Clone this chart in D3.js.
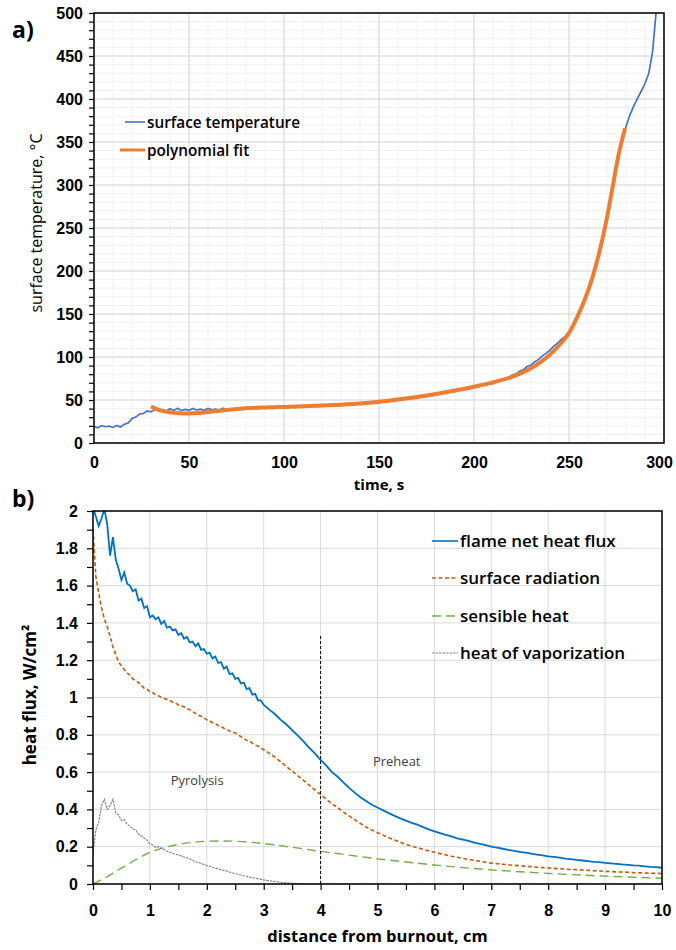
<!DOCTYPE html>
<html>
<head>
<meta charset="utf-8">
<script src="https://cdn.jsdelivr.net/npm/d3@7"></script>
<style>
  body { margin: 0; background: #fff; }
  svg { display: block; font-family: "Open Sans", sans-serif; }
  .tickLabels text { font-weight: 700; font-size: 16px; fill: #000; }
</style>
</head>
<body>
<div id="chart"></div>
<script>
"use strict";

// ---- a) surface temperature vs time ----
// measured trace, one reading every 2 s starting at t = 0
const tempStep = 2;
const surfaceTemp = [
  19.5, 17.8, 20.2, 18.9, 19.6, 18.1, 20.3, 18.6, 21.9, 23.2,
  28.4, 30.1, 33.6, 34.3, 37.4, 36.2, 39.1, 37.6, 38.9, 37.1,
  39.8, 37.9, 40.3, 37.6, 39.1, 37.9, 40.2, 38.4, 39.3, 38.1,
  40.1, 38.6, 39.4, 38.3, 40.4, 38.9, 40.1, 39.0, 40.6, 39.2,
  41.0, 39.7, 41.2, 39.9, 41.3, 40.1, 41.8, 40.4, 42.0, 40.6,
  42.4, 40.9, 42.7, 41.3, 43.1, 41.6, 43.4, 42.0, 44.0, 42.4,
  44.2, 42.8, 44.8, 43.1, 45.3, 43.6, 45.6, 44.1, 46.3, 44.6,
  46.9, 45.2, 47.4, 45.9, 48.2, 46.5, 48.9, 47.4, 49.8, 48.3,
  50.9, 49.6, 52.1, 50.7, 53.3, 52.0, 54.6, 53.4, 56.0, 54.9,
  57.5, 56.3, 59.0, 57.9, 60.6, 59.7, 62.3, 61.5, 64.0, 63.1,
  65.6, 65.0, 67.5, 66.8, 69.3, 69.0, 71.8, 72.0, 75.0, 75.6,
  78.8, 80.1, 83.5, 85.2, 88.9, 90.7, 94.6, 97.2, 101.3, 104.5,
  108, 112.5, 116, 120.5, 124, 129, 137, 146, 155, 165,
  177, 190, 205, 222, 241, 262, 286, 310, 334, 352,
  368, 381, 391.5, 400.5, 409, 418, 430, 455, 505
];
const fitTime = [30, 33, 36, 40, 45, 50, 55, 60, 70, 80, 90, 100, 110, 120, 130, 140, 150, 160, 170, 180,
  190, 200, 210, 220, 230, 235, 240, 245, 250, 254, 258, 262, 266, 270, 273, 276, 279.5];
const fitTemp = [42.5, 39.5, 37.3, 35.6, 34.6, 34.4, 34.9, 36, 38.5, 40.3, 41.3, 42, 42.7, 43.5, 44.6, 46, 48, 50.5, 53.5, 57,
  61, 65.5, 70.5, 77, 87, 94, 103, 114, 128, 145, 165, 190, 222, 262, 298, 334, 366];
const timeTicks = [0, 50, 100, 150, 200, 250, 300];
const tempTicks = [0, 50, 100, 150, 200, 250, 300, 350, 400, 450, 500];

// ---- b) heat flux vs distance from burnout ----
// readings every 0.05 cm up to 3 cm, then every 0.1 cm
const fluxDist = d3.range(0, 61).map(i => i * 0.05).concat(d3.range(31, 101).map(i => i / 10));
const flameFlux = [
  2.02, 1.97, 1.92, 1.96, 2.01, 1.93, 1.76, 1.86, 1.74, 1.69,
  1.63, 1.67, 1.61, 1.60, 1.57, 1.58, 1.52, 1.53, 1.48, 1.49,
  1.43, 1.44, 1.42, 1.43, 1.395, 1.41, 1.375, 1.38, 1.36, 1.365,
  1.335, 1.345, 1.315, 1.325, 1.295, 1.30, 1.275, 1.29, 1.255, 1.26,
  1.235, 1.24, 1.21, 1.22, 1.185, 1.19, 1.155, 1.165, 1.125, 1.13,
  1.10, 1.105, 1.075, 1.08, 1.045, 1.05, 1.015, 1.02, 0.985, 0.985,
  0.96,
  0.935, 0.91, 0.88, 0.855, 0.825, 0.795, 0.765, 0.73, 0.70, 0.665,
  0.635, 0.60, 0.575, 0.545, 0.515, 0.49, 0.465, 0.445, 0.425, 0.41,
  0.395, 0.38, 0.365, 0.352, 0.34, 0.328, 0.318, 0.305, 0.293, 0.282,
  0.273, 0.264, 0.255, 0.245, 0.238, 0.231, 0.222, 0.215, 0.209, 0.201,
  0.195, 0.189, 0.183, 0.178, 0.172, 0.168, 0.163, 0.158, 0.153, 0.148,
  0.145, 0.141, 0.136, 0.133, 0.129, 0.126, 0.123, 0.119, 0.117, 0.113,
  0.111, 0.108, 0.105, 0.103, 0.100, 0.098, 0.095, 0.092, 0.090, 0.087
];
const surfRadiation = [
  1.90, 1.65, 1.56, 1.48, 1.42, 1.38, 1.33, 1.27, 1.23, 1.19,
  1.17, 1.15, 1.13, 1.12, 1.10, 1.09, 1.08, 1.065, 1.05, 1.045,
  1.03, 1.025, 1.015, 1.01, 1.00, 0.995, 0.99, 0.985, 0.975, 0.97,
  0.96, 0.955, 0.95, 0.94, 0.935, 0.925, 0.915, 0.905, 0.90, 0.89,
  0.88, 0.875, 0.865, 0.86, 0.85, 0.845, 0.835, 0.83, 0.82, 0.815,
  0.81, 0.80, 0.79, 0.78, 0.77, 0.765, 0.755, 0.745, 0.74, 0.73,
  0.72,
  0.70, 0.68, 0.655, 0.63, 0.605, 0.58, 0.555, 0.53, 0.505, 0.48,
  0.455, 0.43, 0.41, 0.385, 0.365, 0.345, 0.325, 0.305, 0.29, 0.275,
  0.262, 0.248, 0.236, 0.224, 0.213, 0.203, 0.194, 0.186, 0.178, 0.170,
  0.163, 0.156, 0.149, 0.143, 0.137, 0.132, 0.127, 0.122, 0.117, 0.112,
  0.109, 0.106, 0.103, 0.100, 0.098, 0.095, 0.093, 0.090, 0.088, 0.086,
  0.084, 0.082, 0.080, 0.078, 0.077, 0.075, 0.073, 0.071, 0.070, 0.068,
  0.067, 0.065, 0.064, 0.063, 0.061, 0.060, 0.059, 0.058, 0.057, 0.056
];
const sensDist = [0, 0.25, 0.5, 0.75, 1, 1.25, 1.5, 1.75, 2, 2.25, 2.5, 2.75, 3, 3.5, 4, 4.5, 5, 5.5, 6, 6.5, 7, 7.5, 8, 8.5, 9, 9.5, 10];
const sensibleHeat = [0, 0.04, 0.085, 0.13, 0.17, 0.195, 0.212, 0.223, 0.229, 0.231, 0.229, 0.224, 0.217, 0.197, 0.175,
  0.155, 0.135, 0.118, 0.102, 0.088, 0.076, 0.066, 0.057, 0.049, 0.042, 0.036, 0.031];
const vapDist = d3.range(0, 61).map(i => i * 0.05).concat([3.1, 3.2, 3.3, 3.4, 3.5, 3.6, 3.7, 3.8, 4, 5, 6, 7, 8, 9, 10]);
const vaporHeat = [
  0.16, 0.29, 0.33, 0.42, 0.455, 0.40, 0.42, 0.455, 0.38, 0.37,
  0.34, 0.345, 0.32, 0.31, 0.295, 0.29, 0.265, 0.26, 0.245, 0.235,
  0.215, 0.21, 0.195, 0.20, 0.19, 0.185, 0.175, 0.17, 0.165, 0.16,
  0.155, 0.15, 0.145, 0.14, 0.135, 0.128, 0.12, 0.115, 0.11, 0.105,
  0.098, 0.095, 0.09, 0.086, 0.082, 0.077, 0.073, 0.069, 0.064, 0.06,
  0.056, 0.052, 0.048, 0.044, 0.041, 0.037, 0.034, 0.031, 0.028, 0.025,
  0.022,
  0.017, 0.013, 0.009, 0.006, 0.004, 0.002, 0.001, 0, 0, 0, 0, 0, 0, 0, 0
];
const fluxTicks = d3.range(0, 21).map(i => i / 10);
const distTicks = d3.range(0, 21).map(i => i / 2);
const fluxSeries = ["flame net heat flux", "surface radiation", "sensible heat", "heat of vaporization"];
const fluxColors = ["#0070C0", "#C55A11", "#70AD47", "#7F7F7F"];
const fluxDashes = [null, "4,2.5", "9,5", "2.5,1"];

let svg = d3.select("#chart").append("svg")
  .attr("width", 676)
  .attr("height", 950);

svg.append("rect").attr("width", 676).attr("height", 950).attr("fill", "#fff");

drawTemperature();
drawFlux();

function drawTemperature() {
  let box = { left: 94, right: 664, top: 13, bottom: 443 };
  let x = d3.scaleLinear().domain([0, 300]).range([box.left, box.right]);
  let y = d3.scaleLinear().domain([0, 500]).range([box.bottom, box.top]);
  let g = svg.append("g");

  // minor then major grid
  g.selectAll(".vMinor").data(d3.range(0, 301, 10)).enter().append("line")
    .attr("x1", d => x(d)).attr("x2", d => x(d)).attr("y1", box.top).attr("y2", box.bottom)
    .attr("stroke", "#f0f0f0");
  g.selectAll(".hMinor").data(d3.range(0, 501, 10)).enter().append("line")
    .attr("y1", d => y(d)).attr("y2", d => y(d)).attr("x1", box.left).attr("x2", box.right)
    .attr("stroke", "#f0f0f0");
  g.selectAll(".vMajor").data(timeTicks).enter().append("line")
    .attr("x1", d => x(d)).attr("x2", d => x(d)).attr("y1", box.top).attr("y2", box.bottom)
    .attr("stroke", "#d9d9d9");
  g.selectAll(".hMajor").data(tempTicks).enter().append("line")
    .attr("y1", d => y(d)).attr("y2", d => y(d)).attr("x1", box.left).attr("x2", box.right)
    .attr("stroke", "#d9d9d9");

  g.append("clipPath").attr("id", "clipA").append("rect")
    .attr("x", box.left).attr("y", box.top)
    .attr("width", box.right - box.left).attr("height", box.bottom - box.top);

  let trace = surfaceTemp.map((v, i) => [i * tempStep, v]);
  let fit = fitTime.map((t, i) => [t, fitTemp[i]]);

  g.append("path")
    .datum(trace)
    .attr("clip-path", "url(#clipA)")
    .attr("fill", "none")
    .attr("stroke", "#4472C4")
    .attr("stroke-width", 1.7)
    .attr("d", d3.line().x(d => x(d[0])).y(d => y(d[1])));

  g.append("path")
    .datum(fit)
    .attr("fill", "none")
    .attr("stroke", "#ED7D31")
    .attr("stroke-width", 4)
    .attr("d", d3.line().x(d => x(d[0])).y(d => y(d[1])).curve(d3.curveMonotoneX));

  g.append("rect")
    .attr("x", box.left).attr("y", box.top)
    .attr("width", box.right - box.left).attr("height", box.bottom - box.top)
    .attr("fill", "none").attr("stroke", "#000").attr("stroke-width", 1.5);

  let yAxis = g.append("g")
    .attr("class", "tickLabels")
    .attr("transform", "translate(" + box.left + ",0)")
    .call(d3.axisLeft(y)
      .tickValues(d3.range(0, 501, 10))
      .tickSize(5)
      .tickPadding(6)
      .tickFormat(d => d % 50 === 0 ? d : ""));
  yAxis.select(".domain").remove();
  yAxis.selectAll("line").attr("stroke", "#000").attr("stroke-width", 1.2);

  let xAxis = g.append("g")
    .attr("class", "tickLabels")
    .attr("transform", "translate(0," + box.bottom + ")")
    .call(d3.axisBottom(x).tickValues(timeTicks).tickSize(0).tickPadding(14));
  xAxis.select(".domain").remove();
  // last label sits at the page edge, nudge it inside
  xAxis.selectAll("text").filter(d => d === 300).attr("dx", -5);

  g.append("text")
    .attr("x", (box.left + box.right) / 2).attr("y", 490)
    .attr("text-anchor", "middle")
    .attr("font-size", 15).attr("font-weight", 700)
    .text("time, s");

  g.append("text")
    .attr("transform", "translate(42," + 223 + ") rotate(-90)")
    .attr("text-anchor", "middle")
    .attr("font-size", 16)
    .text("surface temperature, °C");

  g.append("text")
    .attr("x", 12).attr("y", 38)
    .attr("font-size", 23).attr("font-weight", 700)
    .text("a)");

  // legend
  let legend = [
    { label: "surface temperature", color: "#4472C4", width: 1.6, x0: 125, y: 122 },
    { label: "polynomial fit", color: "#ED7D31", width: 3, x0: 120, y: 150 }
  ];
  let lg = g.selectAll(".legendA").data(legend).enter().append("g");
  lg.append("line")
    .attr("x1", d => d.x0).attr("x2", 145)
    .attr("y1", d => d.y).attr("y2", d => d.y)
    .attr("stroke", d => d.color).attr("stroke-width", d => d.width);
  lg.append("text")
    .attr("x", 147).attr("y", d => d.y + 5.5)
    .attr("font-size", 15.3).attr("font-weight", 600)
    .text(d => d.label);
}

function drawFlux() {
  let box = { left: 93, right: 662, top: 511, bottom: 884 };
  let x = d3.scaleLinear().domain([0, 10]).range([box.left, box.right]);
  let y = d3.scaleLinear().domain([0, 2]).range([box.bottom, box.top]);
  let g = svg.append("g");

  g.selectAll(".vGrid").data(d3.range(0, 11)).enter().append("line")
    .attr("x1", d => x(d)).attr("x2", d => x(d)).attr("y1", box.top).attr("y2", box.bottom)
    .attr("stroke", "#d9d9d9");
  g.selectAll(".hGrid").data(d3.range(0, 11).map(i => i / 5)).enter().append("line")
    .attr("y1", d => y(d)).attr("y2", d => y(d)).attr("x1", box.left).attr("x2", box.right)
    .attr("stroke", "#d9d9d9");

  g.append("clipPath").attr("id", "clipB").append("rect")
    .attr("x", box.left).attr("y", box.top)
    .attr("width", box.right - box.left).attr("height", box.bottom - box.top);

  let line = d3.line().x(d => x(d[0])).y(d => y(d[1]));
  let smooth = d3.line().x(d => x(d[0])).y(d => y(d[1])).curve(d3.curveMonotoneX);

  // drawn back to front: sensible, vaporization, radiation, flame
  let layers = [
    { s: 2, pts: sensDist.map((d, i) => [d, sensibleHeat[i]]), gen: smooth, w: 1.4 },
    { s: 3, pts: vapDist.map((d, i) => [d, vaporHeat[i]]), gen: line, w: 1.1 },
    { s: 1, pts: fluxDist.map((d, i) => [d, surfRadiation[i]]), gen: line, w: 1.6 },
    { s: 0, pts: fluxDist.map((d, i) => [d, flameFlux[i]]), gen: line, w: 1.8 }
  ];

  layers.forEach(l => {
    g.append("path")
      .datum(l.pts)
      .attr("clip-path", "url(#clipB)")
      .attr("fill", "none")
      .attr("stroke", fluxColors[l.s])
      .attr("stroke-width", l.w)
      .attr("stroke-dasharray", fluxDashes[l.s])
      .attr("d", l.gen);
  });

  // boundary between pyrolysis and preheat zones
  g.append("line")
    .attr("x1", x(4)).attr("x2", x(4))
    .attr("y1", y(0)).attr("y2", y(1.33))
    .attr("stroke", "#000").attr("stroke-width", 1)
    .attr("stroke-dasharray", "3,2");

  g.append("text")
    .attr("x", x(1.83)).attr("y", y(0.55) + 4)
    .attr("text-anchor", "middle")
    .attr("font-size", 13).attr("fill", "#404040")
    .text("Pyrolysis");
  g.append("text")
    .attr("x", x(4.92)).attr("y", y(0.655) + 4)
    .attr("font-size", 13).attr("fill", "#404040")
    .text("Preheat");

  g.append("rect")
    .attr("x", box.left).attr("y", box.top)
    .attr("width", box.right - box.left).attr("height", box.bottom - box.top)
    .attr("fill", "none").attr("stroke", "#000").attr("stroke-width", 1.5);

  let yAxis = g.append("g")
    .attr("class", "tickLabels")
    .attr("transform", "translate(" + box.left + ",0)")
    .call(d3.axisLeft(y)
      .tickValues(fluxTicks)
      .tickSize(6)
      .tickPadding(9)
      .tickFormat((d, i) => i % 2 === 0 ? String(d) : ""));
  yAxis.select(".domain").remove();
  yAxis.selectAll("line").attr("stroke", "#000").attr("stroke-width", 1.2);

  let xAxis = g.append("g")
    .attr("class", "tickLabels")
    .attr("transform", "translate(0," + box.bottom + ")")
    .call(d3.axisBottom(x)
      .tickValues(distTicks)
      .tickSize(6)
      .tickPadding(15)
      .tickFormat((d, i) => i % 2 === 0 ? String(d) : ""));
  xAxis.select(".domain").remove();
  xAxis.selectAll("line").attr("stroke", "#000").attr("stroke-width", 1.2);
  xAxis.selectAll("text").attr("font-size", 17);
  yAxis.selectAll("text").attr("font-size", 16);

  g.append("text")
    .attr("x", (box.left + box.right) / 2).attr("y", 942)
    .attr("text-anchor", "middle")
    .attr("font-size", 16.5).attr("font-weight", 700)
    .text("distance from burnout, cm");

  g.append("text")
    .attr("transform", "translate(36," + 695 + ") rotate(-90)")
    .attr("text-anchor", "middle")
    .attr("font-size", 17).attr("font-weight", 700)
    .text("heat flux, W/cm²");

  g.append("text")
    .attr("x", 12).attr("y", 507)
    .attr("font-size", 23).attr("font-weight", 700)
    .text("b)");

  let rows = [541, 578, 616, 653];
  let lg = g.selectAll(".legendB").data(fluxSeries).enter().append("g")
    .attr("transform", (d, i) => "translate(0," + rows[i] + ")");
  lg.append("line")
    .attr("x1", 432).attr("x2", 458)
    .attr("stroke", (d, i) => fluxColors[i])
    .attr("stroke-width", (d, i) => i === 3 ? 1 : 1.6)
    .attr("stroke-dasharray", (d, i) => fluxDashes[i]);
  lg.append("text")
    .attr("x", 460).attr("y", 6)
    .attr("font-size", 17).attr("font-weight", 600)
    .text(d => d);
}
</script>
</body>
</html>
